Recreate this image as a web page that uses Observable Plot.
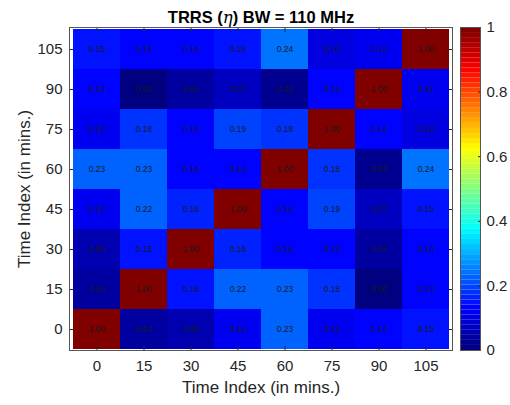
<!DOCTYPE html>
<html>
<head>
<meta charset="utf-8">
<script src="https://cdn.jsdelivr.net/npm/d3@7"></script>
<script src="https://cdn.jsdelivr.net/npm/@observablehq/plot@0.6"></script>
<style>
  body { margin: 0; background: white; }
  #wrap { position: relative; width: 510px; height: 405px; }
  #wrap > div, #wrap > svg { position: absolute; top: 0; }
</style>
</head>
<body>
<div id="wrap"></div>
<script>
const times = [0, 15, 30, 45, 60, 75, 90, 105];
const rowTimes = [105, 90, 75, 60, 45, 30, 15, 0];
const row105 = [0.15, 0.13, 0.14, 0.15, 0.24, 0.10, 0.11, 1.00];
const row90  = [0.14, 0.00, 0.04, 0.07, 0.02, 0.14, 1.00, 0.11];
const row75  = [0.12, 0.18, 0.13, 0.19, 0.18, 1.00, 0.14, 0.10];
const row60  = [0.23, 0.23, 0.14, 0.14, 1.00, 0.18, 0.02, 0.24];
const row45  = [0.12, 0.22, 0.16, 1.00, 0.14, 0.19, 0.07, 0.15];
const row30  = [0.05, 0.15, 1.00, 0.16, 0.14, 0.13, 0.04, 0.14];
const row15  = [0.04, 1.00, 0.15, 0.22, 0.23, 0.18, 0.00, 0.13];
const row0   = [1.00, 0.04, 0.05, 0.12, 0.23, 0.12, 0.14, 0.15];
const rows = [row105, row90, row75, row60, row45, row30, row15, row0];
const colorTicks = [0, 0.2, 0.4, 0.6, 0.8, 1];
const titleText = "TRRS (η) BW = 110 MHz";

const data = [];
rows.forEach((r, i) => r.forEach((v, j) => data.push({x: times[j], y: rowTimes[i], v})));

function jet(t) {
  const k = Math.min(63, Math.max(0, Math.floor(t * 64))) / 63;
  const c = v => Math.round(255 * Math.max(0, Math.min(1, v)));
  const r = c(1.5 - Math.abs(4 * k - 3));
  const g = c(1.5 - Math.abs(4 * k - 2));
  const b = c(1.5 - Math.abs(4 * k - 1));
  return `rgb(${r},${g},${b})`;
}

const font = "Liberation Sans, Arial, sans-serif";
const ink = "#262626";

const main = Plot.plot({
  width: 510, height: 405,
  marginLeft: 69, marginRight: 58, marginTop: 27, marginBottom: 55,
  style: {fontFamily: font, fontSize: "15px", color: ink, background: "transparent", overflow: "visible"},
  x: {type: "band", domain: times, padding: 0},
  y: {type: "band", domain: rowTimes, padding: 0},
  color: {type: "linear", domain: [0, 1], interpolate: jet},
  marks: [
    Plot.cell(data, {x: "x", y: "y", fill: "v"}),
    Plot.text(data, {x: "x", y: "y", text: d => d.v.toFixed(2), fontSize: 8.5, fill: "#1a1a1a"}),
    Plot.axisX({anchor: "bottom", tickSize: 0, tickPadding: 10, fontSize: 15, label: "Time Index (in mins.)", labelAnchor: "center", labelArrow: "none", labelOffset: 42}),
    Plot.axisX({anchor: "bottom", tickSize: -4, text: null, label: null, stroke: "#262626"}),
    Plot.axisX({anchor: "top", tickSize: -4, text: null, label: null, stroke: "#262626"}),
    Plot.axisY({anchor: "left", tickSize: 0, tickPadding: 7, fontSize: 15, label: "Time Index (in mins.)", labelAnchor: "center", labelArrow: "none", labelOffset: 52}),
    Plot.axisY({anchor: "left", tickSize: -4, text: null, label: null, stroke: "#262626"}),
    Plot.axisY({anchor: "right", tickSize: -4, text: null, label: null, stroke: "#262626"}),
    Plot.frame({stroke: "#555"}),
    Plot.text([titleText], {frameAnchor: "top", dy: -16, fontSize: 16.5, fontWeight: "bold", fill: "black", className: "chart-title"})
  ]
});
main.style.left = "0px";
main.querySelectorAll("[aria-label='x-axis label'], [aria-label='y-axis label']").forEach(e => { e.setAttribute("font-size", "17"); });
// italicise the eta in the title, keeping it as real text
main.querySelectorAll(".chart-title text").forEach(t => {
  const s = t.textContent;
  const i = s.indexOf("η");
  if (i < 0) return;
  t.textContent = "";
  const ns = "http://www.w3.org/2000/svg";
  const parts = [[s.slice(0, i), null], ["η", "italic"], [s.slice(i + 1), null]];
  for (const [txt, st] of parts) {
    const sp = document.createElementNS(ns, "tspan");
    sp.textContent = txt;
    if (st) { sp.setAttribute("font-style", st); sp.setAttribute("font-weight", "normal"); sp.setAttribute("font-family", "DejaVu Serif, serif"); }
    t.appendChild(sp);
  }
});

const steps = d3.range(64).map(i => ({y1: i / 64, y2: (i + 1) / 64, v: (i + 0.5) / 64}));
const bar = Plot.plot({
  width: 60, height: 405,
  marginLeft: 10, marginRight: 30, marginTop: 27, marginBottom: 55,
  style: {fontFamily: font, fontSize: "15px", color: ink, background: "transparent", overflow: "visible"},
  x: {domain: [0, 1], axis: null},
  y: {domain: [0, 1], ticks: colorTicks},
  color: {type: "linear", domain: [0, 1], interpolate: jet},
  marks: [
    Plot.rect(steps, {x1: 0, x2: 1, y1: "y1", y2: "y2", fill: "v"}),
    Plot.axisY(colorTicks, {anchor: "right", tickSize: 0, tickPadding: 6, fontSize: 15, label: null, tickFormat: d => String(d)}),
    Plot.axisY(colorTicks, {anchor: "right", tickSize: -3, text: null, label: null, stroke: "#262626"}),
    Plot.frame({stroke: "#555"})
  ]
});
bar.style.left = "450px";

const wrap = document.getElementById("wrap");
wrap.appendChild(main);
wrap.appendChild(bar);
</script>
</body>
</html>
